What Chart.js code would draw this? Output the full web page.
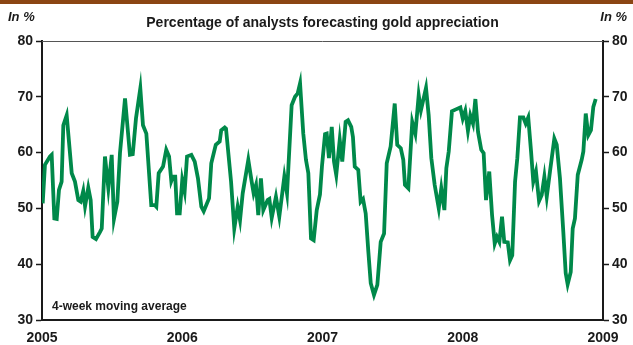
<!DOCTYPE html>
<html>
<head>
<meta charset="utf-8">
<script src="https://cdn.jsdelivr.net/npm/chart.js@4.4.1/dist/chart.umd.min.js"></script>
<style>
  html, body { margin: 0; padding: 0; background: #fff; }
  #wrap { width: 633px; height: 345px; position: relative; }
</style>
</head>
<body>
<div id="wrap"><canvas id="c" width="633" height="345"></canvas></div>
<script>
// Weekly observations, dates as decimal years
const dates = [
  2005.005, 2005.021, 2005.057, 2005.069, 2005.088, 2005.105, 2005.121, 2005.140, 2005.152, 2005.176,
  2005.212, 2005.235, 2005.259, 2005.276, 2005.294, 2005.307, 2005.330, 2005.347, 2005.361, 2005.385,
  2005.414, 2005.426, 2005.449, 2005.473, 2005.497, 2005.513, 2005.537, 2005.556, 2005.592, 2005.627,
  2005.647, 2005.670, 2005.701, 2005.720, 2005.744, 2005.779, 2005.804, 2005.815, 2005.832, 2005.863,
  2005.886, 2005.906, 2005.922, 2005.934, 2005.950, 2005.963, 2005.982, 2006.000, 2006.017, 2006.034,
  2006.065, 2006.089, 2006.112, 2006.136, 2006.153, 2006.191, 2006.207, 2006.239, 2006.267, 2006.278,
  2006.303, 2006.312, 2006.348, 2006.371, 2006.395, 2006.412, 2006.431, 2006.471, 2006.495, 2006.509,
  2006.526, 2006.542, 2006.561, 2006.578, 2006.609, 2006.621, 2006.638, 2006.668, 2006.692, 2006.728,
  2006.747, 2006.780, 2006.804, 2006.823, 2006.840, 2006.863, 2006.882, 2006.899, 2006.918, 2006.937,
  2006.959, 2006.982, 2006.996, 2007.018, 2007.030, 2007.046, 2007.066, 2007.082, 2007.098, 2007.123,
  2007.141, 2007.165, 2007.182, 2007.205, 2007.217, 2007.230, 2007.255, 2007.272, 2007.289, 2007.308,
  2007.327, 2007.344, 2007.367, 2007.391, 2007.415, 2007.439, 2007.458, 2007.486, 2007.515, 2007.533,
  2007.558, 2007.576, 2007.588, 2007.612, 2007.640, 2007.662, 2007.686, 2007.702, 2007.738, 2007.757,
  2007.776, 2007.800, 2007.829, 2007.847, 2007.869, 2007.883, 2007.900, 2007.923, 2007.947, 2007.983,
  2008.000, 2008.018, 2008.037, 2008.054, 2008.073, 2008.090, 2008.109, 2008.132, 2008.149, 2008.166,
  2008.189, 2008.209, 2008.228, 2008.244, 2008.261, 2008.280, 2008.296, 2008.321, 2008.337, 2008.353,
  2008.373, 2008.389, 2008.408, 2008.432, 2008.449, 2008.467, 2008.487, 2008.503, 2008.522, 2008.544,
  2008.563, 2008.582, 2008.599, 2008.622, 2008.653, 2008.670, 2008.693, 2008.717, 2008.734, 2008.748,
  2008.770, 2008.784, 2008.800, 2008.820, 2008.848, 2008.860, 2008.877, 2008.895, 2008.914, 2008.931,
  2008.948
];

// Share of analysts expecting the gold price to rise (%), 4-week moving average
const shareBullish = [
  50.9, 57.8, 59.3, 59.6, 48.2, 48.1, 53.3, 54.8, 64.9, 66.7,
  56.3, 54.8, 51.5, 51.2, 53.1, 50.4, 53.7, 51.5, 44.9, 44.5,
  45.8, 46.4, 59.3, 53.6, 59.6, 48.1, 51.2, 59.9, 69.7, 59.6,
  59.7, 66.1, 71.5, 64.9, 63.4, 50.6, 50.6, 50.3, 56.3, 57.5,
  60.5, 59.3, 54.9, 55.7, 55.7, 49.1, 49.1, 55.1, 53.0, 59.3,
  59.6, 58.4, 55.4, 50.3, 49.5, 51.8, 58.1, 61.4, 62.0, 64.0,
  64.5, 64.3, 54.8, 46.4, 50.3, 47.9, 52.7, 58.7, 54.8, 52.7,
  54.2, 48.8, 55.4, 49.7, 51.5, 51.7, 48.3, 52.1, 48.5, 55.7,
  52.7, 68.5, 70.0, 70.6, 72.4, 63.4, 58.7, 56.3, 44.6, 44.3,
  49.7, 52.5, 57.5, 63.3, 63.4, 59.0, 64.6, 58.4, 56.0, 62.3,
  58.4, 65.5, 65.8, 64.6, 62.8, 57.5, 56.9, 51.2, 51.7, 49.1,
  42.2, 36.6, 34.5, 36.3, 44.0, 45.5, 58.1, 61.1, 68.8, 61.4,
  60.8, 58.7, 54.2, 53.6, 65.5, 63.4, 70.3, 67.6, 71.6, 66.7,
  59.0, 54.2, 50.0, 53.6, 49.7, 57.2, 60.2, 67.4, 67.7, 68.1,
  66.1, 67.5, 63.9, 66.7, 65.2, 69.6, 63.7, 60.5, 59.9, 51.5,
  56.6, 48.8, 43.7, 44.9, 44.0, 48.5, 44.0, 43.9, 40.7, 41.6,
  54.8, 59.0, 66.3, 66.3, 65.2, 66.3, 60.2, 54.8, 56.6, 51.3,
  52.4, 55.7, 52.1, 56.6, 62.5, 61.4, 55.4, 45.8, 38.4, 36.4,
  38.6, 46.4, 48.2, 56.0, 58.7, 60.2, 67.0, 63.1, 64.0, 68.2,
  69.6
];

const yearTicks = [2005, 2006, 2007, 2008, 2009];
const valueTicks = [30, 40, 50, 60, 70, 80];
const chartTitle = 'Percentage of analysts forecasting gold appreciation';
const unitLabel = 'In %';
const noteLabel = '4-week moving average';

const FONT = '"Liberation Sans", Arial, Helvetica, sans-serif';
const INK = '#1a1a1a';
const GREEN = 'rgb(0,137,74)';

const points = dates.map((d, i) => ({ x: d, y: shareBullish[i] }));

// Header band, titles and frame top line
const decorations = {
  id: 'decorations',
  beforeDraw(chart) {
    const ctx = chart.ctx;
    ctx.save();
    ctx.fillStyle = '#fff';
    ctx.fillRect(0, 0, chart.width, chart.height);
    ctx.fillStyle = 'rgb(139,69,19)';
    ctx.fillRect(0, 0, chart.width, 4);
    ctx.restore();
  },
  afterDraw(chart) {
    const { ctx, chartArea: a } = chart;
    ctx.save();
    // thin top frame line
    ctx.strokeStyle = '#555';
    ctx.lineWidth = 1;
    ctx.beginPath();
    ctx.moveTo(a.left, a.top + 0.5);
    ctx.lineTo(a.right, a.top + 0.5);
    ctx.stroke();

    ctx.fillStyle = INK;
    ctx.textBaseline = 'middle';
    ctx.font = 'bold 14px ' + FONT;
    ctx.textAlign = 'center';
    ctx.fillText(chartTitle, (a.left + a.right) / 2, 23);

    ctx.font = 'italic bold 13px ' + FONT;
    ctx.textAlign = 'left';
    ctx.fillText(unitLabel, 8, 17);
    ctx.textAlign = 'right';
    ctx.fillText(unitLabel, chart.width - 6, 17);

    ctx.font = 'bold 12px ' + FONT;
    ctx.textAlign = 'left';
    ctx.fillText(noteLabel, a.left + 10, a.bottom - 13);
    ctx.restore();
  }
};

const valueAxis = (position, width) => ({
  type: 'linear',
  position,
  min: valueTicks[0],
  max: valueTicks[valueTicks.length - 1],
  afterBuildTicks(scale) { scale.ticks = valueTicks.map(v => ({ value: v })); },
  afterFit(scale) { scale.width = width; },
  grid: { drawOnChartArea: false, drawTicks: true, tickLength: 6, tickWidth: 1.5, color: INK },
  border: { display: true, color: INK, width: 2 },
  ticks: {
    padding: 3,
    color: INK,
    font: { family: FONT, size: 14, weight: 'bold' }
  }
});

new Chart(document.getElementById('c'), {
  type: 'line',
  data: {
    datasets: [{
      data: points,
      borderColor: GREEN,
      borderWidth: 3.8,
      pointRadius: 0,
      tension: 0,
      fill: false
    }]
  },
  plugins: [decorations],
  options: {
    responsive: false,
    animation: false,
    events: [],
    layout: { padding: { top: 41, left: 0, right: 0, bottom: 0 } },
    plugins: { legend: { display: false }, tooltip: { enabled: false }, title: { display: false } },
    scales: {
      x: {
        type: 'linear',
        min: yearTicks[0],
        max: yearTicks[yearTicks.length - 1],
        afterBuildTicks(scale) { scale.ticks = yearTicks.map(v => ({ value: v })); },
        afterFit(scale) { scale.height = 25; },
        grid: { drawOnChartArea: false, drawTicks: false },
        border: { display: true, color: INK, width: 2 },
        ticks: {
          padding: 10,
          maxRotation: 0,
          color: INK,
          font: { family: FONT, size: 14, weight: 'bold' },
          callback: v => String(v)
        }
      },
      y: valueAxis('left', 42),
      y2: valueAxis('right', 30)
    }
  }
});
</script>
</body>
</html>
